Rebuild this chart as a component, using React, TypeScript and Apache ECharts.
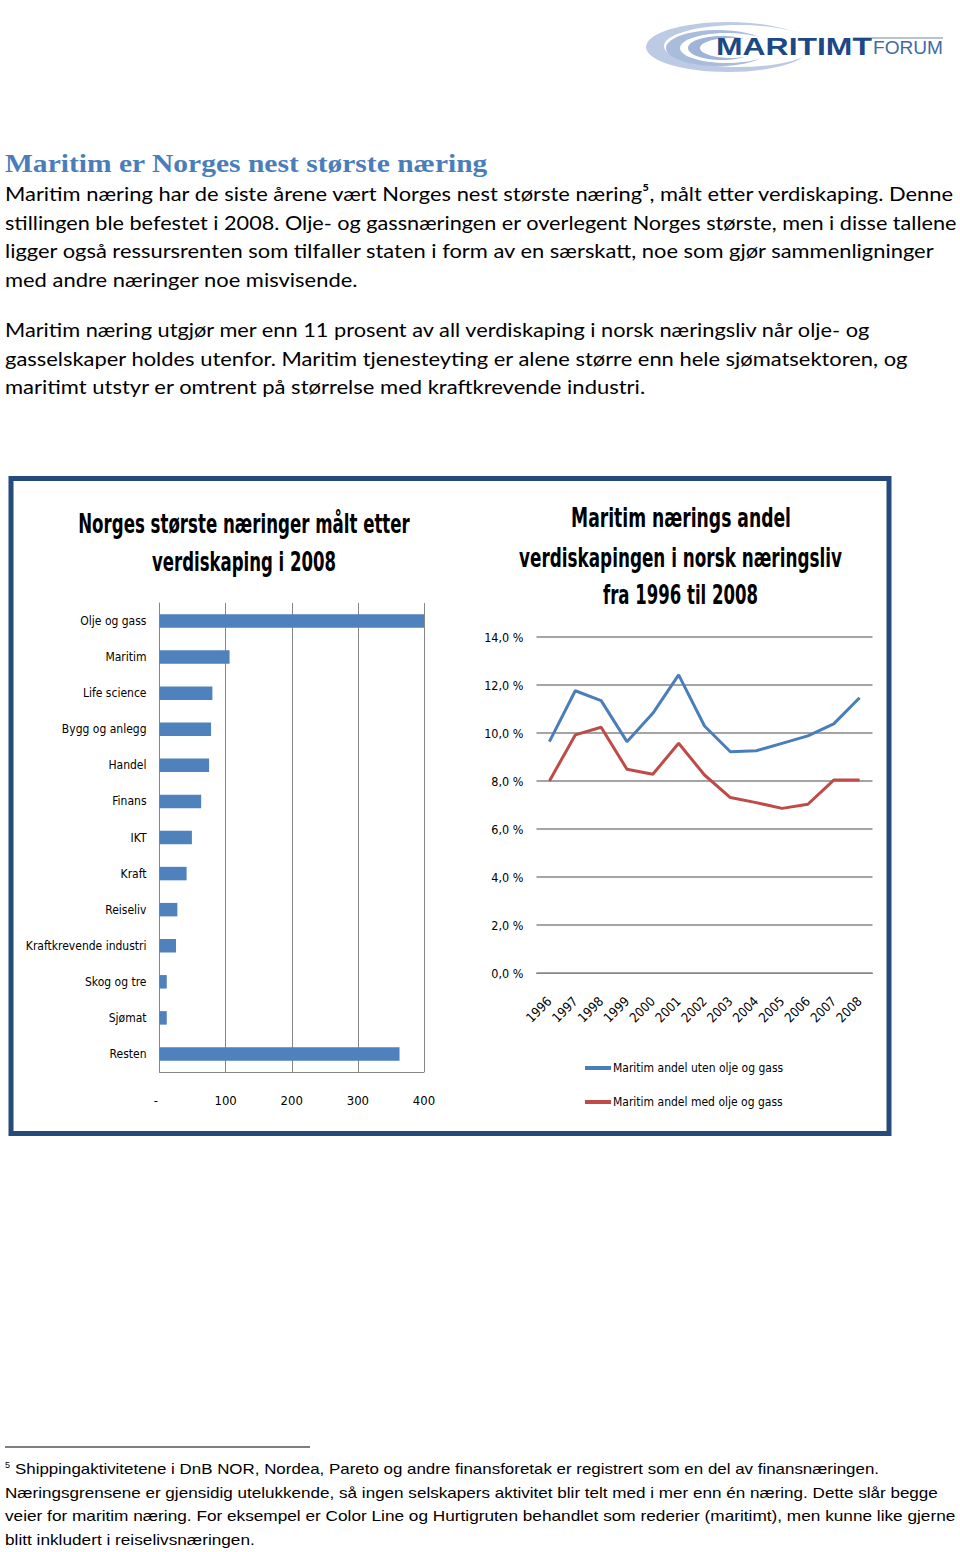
import React, { useEffect, useRef } from "react";
import * as echarts from "echarts";

// ---------- data ----------
const barCategories = [
  "Olje og gass",
  "Maritim",
  "Life science",
  "Bygg og anlegg",
  "Handel",
  "Finans",
  "IKT",
  "Kraft",
  "Reiseliv",
  "Kraftkrevende industri",
  "Skog og tre",
  "Sjømat",
  "Resten",
];
const barValues = [400, 106, 80, 78, 75, 63, 49, 41, 27, 25, 11, 11, 363];
const barAxisMax = 400;
const barAxisStep = 100;

const years = ["1996", "1997", "1998", "1999", "2000", "2001", "2002", "2003", "2004", "2005", "2006", "2007", "2008"];
const shareWithoutOil = [9.64, 11.76, 11.35, 9.64, 10.82, 12.42, 10.29, 9.22, 9.26, 9.57, 9.88, 10.38, 11.47];
const shareWithOil = [8.0, 9.92, 10.24, 8.49, 8.28, 9.57, 8.25, 7.31, 7.1, 6.86, 7.03, 8.04, 8.04];
const lineAxisMax = 14;
const lineAxisStep = 2;
const seriesNames = ["Maritim andel uten olje og gass", "Maritim andel med olje og gass"];

const heading = "Maritim er Norges nest største næring";
const paragraph1 = [
  "Maritim næring har de siste årene vært Norges nest største næring⁵, målt etter verdiskaping. Denne",
  "stillingen ble befestet i 2008. Olje- og gassnæringen er overlegent Norges største, men i disse tallene",
  "ligger også ressursrenten som tilfaller staten i form av en særskatt, noe som gjør sammenligninger",
  "med andre næringer noe misvisende.",
];
const paragraph2 = [
  "Maritim næring utgjør mer enn 11 prosent av all verdiskaping i norsk næringsliv når olje- og",
  "gasselskaper holdes utenfor. Maritim tjenesteyting er alene større enn hele sjømatsektoren, og",
  "maritimt utstyr er omtrent på størrelse med kraftkrevende industri.",
];
const barTitle = ["Norges største næringer målt etter", "verdiskaping i 2008"];
const lineTitle = ["Maritim nærings andel", "verdiskapingen i norsk næringsliv", "fra 1996 til 2008"];
const footnote = [
  "Shippingaktivitetene i DnB NOR, Nordea, Pareto og andre finansforetak er registrert som en del av finansnæringen.",
  "Næringsgrensene er gjensidig utelukkende, så ingen selskapers aktivitet blir telt med i mer enn én næring. Dette slår begge",
  "veier for maritim næring. For eksempel er Color Line og Hurtigruten behandlet som rederier (maritimt), men kunne like gjerne",
  "blitt inkludert i reiselivsnæringen.",
];

// ---------- layout helpers ----------
const NARROW = "'Liberation Sans Narrow', 'DejaVu Sans Condensed', 'Arial Narrow', sans-serif";
const PROSE = "Lato, 'Open Sans', sans-serif";
const SERIF = "'Liberation Serif', 'DejaVu Serif', serif";
const FOOT = "'Liberation Sans', Arial, sans-serif";

let measureCtx: CanvasRenderingContext2D | null = null;
function measure(text: string, font: string): number {
  if (!measureCtx) measureCtx = document.createElement("canvas").getContext("2d");
  if (!measureCtx) return 1;
  measureCtx.font = font;
  return measureCtx.measureText(text).width || 1;
}

function fitText(
  text: string,
  x: number,
  y: number,
  width: number,
  size: number,
  family: string,
  weight: string,
  fill: string,
  align: "left" | "center" = "left"
) {
  const font = `${weight} ${size}px ${family}`;
  const s = width / measure(text, font);
  return {
    type: "text",
    x,
    y,
    scaleX: s,
    silent: true,
    style: {
      text,
      x: 0,
      y: 0,
      fill,
      fontSize: size,
      fontFamily: family,
      fontWeight: weight,
      textAlign: align,
      textVerticalAlign: "middle",
    },
  };
}

export default function App() {
  const ref = useRef<HTMLDivElement>(null);

  useEffect(() => {
    if (!ref.current) return;
    const chart = echarts.init(ref.current, undefined, { renderer: "svg" });

    const p1Widths = [950, 953, 931, 353];
    const p1Y = [193, 222, 250, 279];
    const p2Widths = [868, 904, 641];
    const p2Y = [329, 358, 386];

    const graphics: any[] = [];

    // Logo
    graphics.push(
      { type: "ellipse", shape: { cx: 728, cy: 47, rx: 82, ry: 25 }, style: { fill: "#bccbe3" }, silent: true },
      { type: "ellipse", shape: { cx: 739, cy: 46, rx: 75, ry: 21 }, style: { fill: "#ffffff" }, silent: true },
      { type: "ellipse", shape: { cx: 718, cy: 48, rx: 52, ry: 18 }, style: { fill: "#a9bcdb" }, silent: true },
      { type: "ellipse", shape: { cx: 727, cy: 48, rx: 47, ry: 15 }, style: { fill: "#ffffff" }, silent: true },
      { type: "ellipse", shape: { cx: 722, cy: 48, rx: 34, ry: 12 }, style: { fill: "#9fb4d6" }, silent: true },
      { type: "ellipse", shape: { cx: 731, cy: 48, rx: 31, ry: 10 }, style: { fill: "#ffffff" }, silent: true },
      { type: "line", shape: { x1: 853, y1: 38, x2: 943, y2: 38 }, style: { stroke: "#b6c3d6", lineWidth: 2 }, silent: true },
      fitText("MARITIMT", 716, 47, 156, 24, "'Liberation Sans'", "bold", "#1c4886"),
      fitText("FORUM", 873, 48, 70, 18, "'Liberation Sans'", "normal", "#3f6aa6")
    );

    // Heading and prose
    graphics.push(fitText(heading, 5, 163, 483, 26, SERIF, "bold", "#4a7ebb"));
    paragraph1.forEach((t, i) => graphics.push(fitText(t, 5, p1Y[i], p1Widths[i], 20, PROSE, "normal", "#000000")));
    paragraph2.forEach((t, i) => graphics.push(fitText(t, 5, p2Y[i], p2Widths[i], 20, PROSE, "normal", "#000000")));

    // Frame
    graphics.push({
      type: "rect",
      shape: { x: 11, y: 478.5, width: 878, height: 655 },
      style: { fill: "none", stroke: "#254a7c", lineWidth: 5 },
      silent: true,
      z: -1,
    });

    // Chart titles
    graphics.push(fitText(barTitle[0], 244, 524, 332, 27, NARROW, "bold", "#000000", "center"));
    graphics.push(fitText(barTitle[1], 244, 562, 184, 27, NARROW, "bold", "#000000", "center"));
    graphics.push(fitText(lineTitle[0], 681, 518, 220, 27, NARROW, "bold", "#000000", "center"));
    graphics.push(fitText(lineTitle[1], 680.5, 557, 323, 27, NARROW, "bold", "#000000", "center"));
    graphics.push(fitText(lineTitle[2], 680.5, 595, 155, 27, NARROW, "bold", "#000000", "center"));

    // Footnote
    graphics.push({ type: "line", shape: { x1: 5, y1: 1447, x2: 310, y2: 1447 }, style: { stroke: "#000", lineWidth: 1.2 }, silent: true });
    graphics.push({
      type: "text",
      x: 5,
      y: 1465,
      silent: true,
      style: { text: "5", fontSize: 9, fontFamily: FOOT, fill: "#000", textVerticalAlign: "middle" },
    });
    const fX = [15, 5, 5, 5];
    const fW = [865, 933, 951, 250];
    const fY = [1469, 1493, 1516, 1540];
    footnote.forEach((t, i) => graphics.push(fitText(t, fX[i], fY[i], fW[i], 14, FOOT, "normal", "#000000")));

    const labelStyle = { fontSize: 12.5, fontFamily: NARROW, color: "#000000" };
    const gridColor = "#868686";

    chart.setOption({
      animation: false,
      backgroundColor: "#ffffff",
      grid: [
        { left: 159.5, top: 603, width: 264.5, height: 469 },
        { left: 536.5, top: 637, width: 336, height: 336 },
      ],
      xAxis: [
        {
          gridIndex: 0,
          type: "value",
          min: 0,
          max: barAxisMax,
          interval: barAxisStep,
          axisLine: { show: true, lineStyle: { color: gridColor } },
          axisTick: { show: false },
          splitLine: { show: true, lineStyle: { color: gridColor, width: 1 } },
          axisLabel: { ...labelStyle, fontSize: 13, margin: 22, formatter: (v: number) => (v === 0 ? "-  " : String(v)) },
        },
        {
          gridIndex: 1,
          type: "category",
          data: years,
          boundaryGap: true,
          axisLine: { show: true, lineStyle: { color: gridColor } },
          axisTick: { show: false },
          axisLabel: { ...labelStyle, fontSize: 13, rotate: 45, interval: 0, margin: 26 },
        },
      ],
      yAxis: [
        {
          gridIndex: 0,
          type: "category",
          data: barCategories,
          inverse: true,
          axisLine: { show: true, lineStyle: { color: gridColor } },
          axisTick: { show: false },
          axisLabel: { ...labelStyle, fontSize: 12, margin: 13 },
        },
        {
          gridIndex: 1,
          type: "value",
          min: 0,
          max: lineAxisMax,
          interval: lineAxisStep,
          axisLine: { show: false },
          axisTick: { show: false },
          splitLine: { show: true, lineStyle: { color: gridColor, width: 1.5 } },
          axisLabel: { ...labelStyle, margin: 13, formatter: (v: number) => v.toFixed(1).replace(".", ",") + " %" },
        },
      ],
      legend: {
        orient: "vertical",
        left: 580,
        top: 1057,
        itemWidth: 26,
        itemHeight: 4,
        itemGap: 22,
        icon: "rect",
        data: seriesNames,
        textStyle: { fontSize: 12, fontFamily: NARROW, color: "#000000", padding: [0, 0, 0, -3] },
      },
      series: [
        {
          type: "bar",
          xAxisIndex: 0,
          yAxisIndex: 0,
          data: barValues,
          barWidth: 13.5,
          itemStyle: { color: "#4f81bd" },
          silent: true,
        },
        {
          type: "line",
          name: seriesNames[0],
          xAxisIndex: 1,
          yAxisIndex: 1,
          data: shareWithoutOil,
          symbol: "none",
          lineStyle: { width: 3, color: "#4a7ebb" },
          itemStyle: { color: "#4a7ebb" },
        },
        {
          type: "line",
          name: seriesNames[1],
          xAxisIndex: 1,
          yAxisIndex: 1,
          data: shareWithOil,
          symbol: "none",
          lineStyle: { width: 3, color: "#be4b48" },
          itemStyle: { color: "#be4b48" },
        },
      ],
      graphic: graphics,
    });

    return () => chart.dispose();
  }, []);

  return <div ref={ref} style={{ position: "absolute", left: 0, top: 0, width: 960, height: 1552 }} />;
}
